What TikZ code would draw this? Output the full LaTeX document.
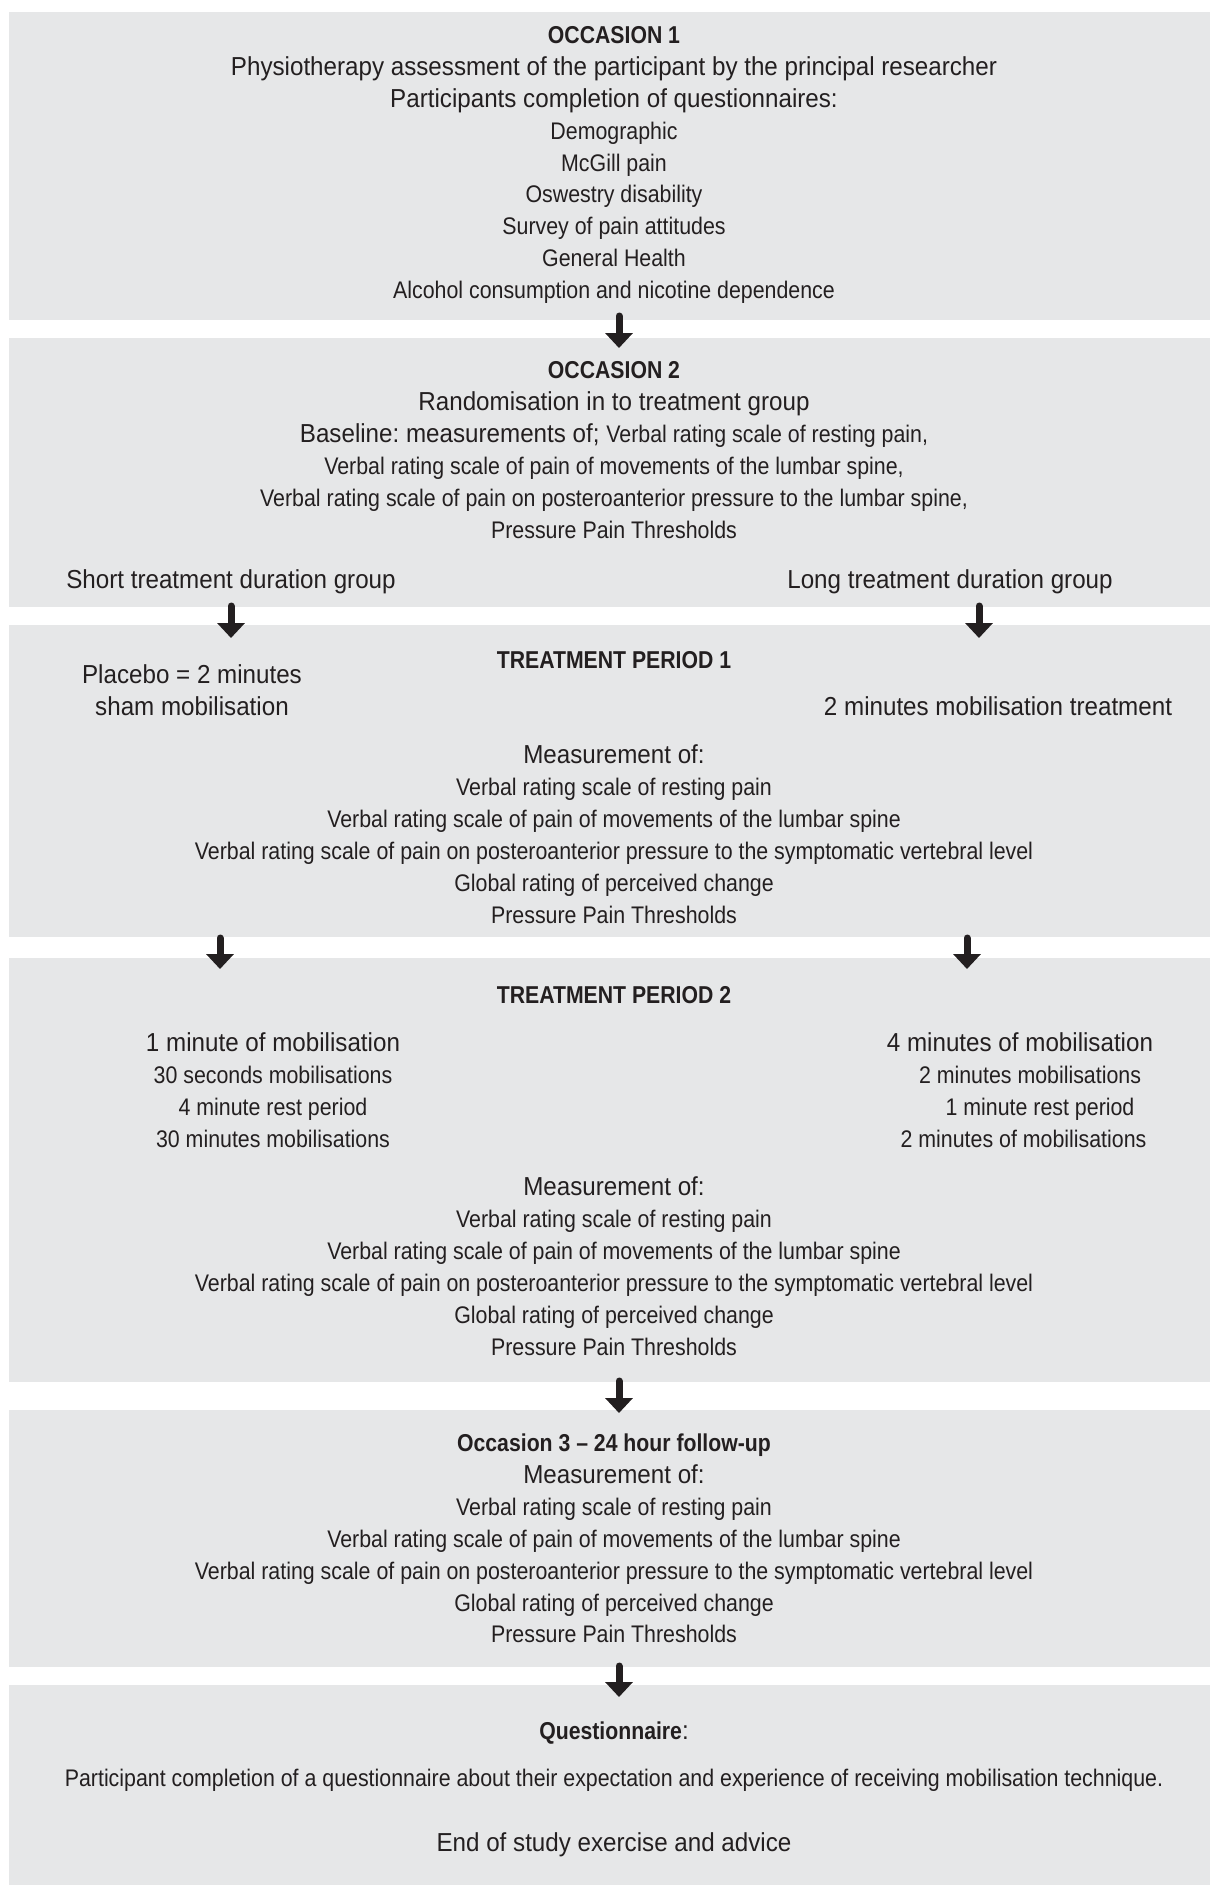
\documentclass[tikz,border=0pt]{standalone}
\usepackage{fontspec}
\setmainfont{Liberation Sans}[FakeStretch=0.93]
\newfontfamily\lightfont{Liberation Sans}[FakeStretch=0.89]
\newfontfamily\headfont{Liberation Sans}[FakeStretch=0.87]
\usetikzlibrary{arrows.meta}
\frenchspacing

\definecolor{boxgray}{HTML}{E6E7E8}
\definecolor{inkgray}{HTML}{231F20}

\newcommand{\mainsz}{\fontsize{13}{15.95}\selectfont}
\newcommand{\lightsz}{\lightfont\fontsize{12}{15.95}\selectfont}
\newcommand{\headsz}{\headfont\bfseries\fontsize{12.2}{15.95}\selectfont}

\tikzset{
  stage/.style={fill=boxgray},
  txt/.style={text=inkgray, align=center, inner sep=0pt, font=\mainsz},
  down/.style={draw=inkgray, line width=3.5pt, line cap=round,
    -{Triangle[width=13.5pt,length=7.5pt]}},
}

\begin{document}
\begin{tikzpicture}[x=0.5pt,y=-0.5pt]
	\useasboundingbox (0,0) rectangle (1210,1885);
	% stage boxes
	\fill[stage] (9,12) rectangle (1210,320);
	\fill[stage] (9,338) rectangle (1210,607);
	\fill[stage] (9,625) rectangle (1210,937);
	\fill[stage] (9,958) rectangle (1210,1382);
	\fill[stage] (9,1410) rectangle (1210,1667);
	\fill[stage] (9,1685) rectangle (1210,1885);

	% occasion 1
	\node[txt] (occ1) at (614,165) {{\headsz OCCASION 1}\\
		Physiotherapy assessment of the participant by the principal researcher\\
		Participants completion of questionnaires:\\
		{\lightsz Demographic}\\
		{\lightsz McGill pain}\\
		{\lightsz Oswestry disability}\\
		{\lightsz Survey of pain attitudes}\\
		{\lightsz General Health}\\
		{\lightsz Alcohol consumption and nicotine dependence}};

	% occasion 2
	\node[txt] (occ2) at (614,450) {{\headsz OCCASION 2}\\
		Randomisation in to treatment group\\
		Baseline: measurements of; {\lightsz Verbal rating scale of resting pain,}\\
		{\lightsz Verbal rating scale of pain of movements of the lumbar spine,}\\
		{\lightsz Verbal rating scale of pain on posteroanterior pressure to the lumbar spine,}\\
		{\lightsz Pressure Pain Thresholds}};
	\node[txt] (short) at (231,581.5) {Short treatment duration group};
	\node[txt] (long) at (950,581.5) {Long treatment duration group};

	% treatment period 1
	\node[txt] (tp1) at (614,660) {\headsz TREATMENT PERIOD 1};
	\node[txt] (placebo) at (192,690) {Placebo = 2 minutes\\ sham mobilisation};
	\node[txt] (mob2) at (998,706.5) {2 minutes mobilisation treatment};
	\node[txt] (meas1) at (614,834) {Measurement of:\\
		{\lightsz Verbal rating scale of resting pain}\\
		{\lightsz Verbal rating scale of pain of movements of the lumbar spine}\\
		{\lightsz Verbal rating scale of pain on posteroanterior pressure to the symptomatic vertebral level}\\
		{\lightsz Global rating of perceived change}\\
		{\lightsz Pressure Pain Thresholds}};

	% treatment period 2
	\node[txt] (tp2) at (614,995.5) {\headsz TREATMENT PERIOD 2};
	\node[txt] (shortmob) at (273,1090) {1 minute of mobilisation\\
		{\lightsz 30 seconds mobilisations}\\
		{\lightsz 4 minute rest period}\\
		{\lightsz 30 minutes mobilisations}};
	\node[txt] (longmob) at (1020,1090) {4 minutes of mobilisation\\
		{\lightsz\hspace*{10pt}2 minutes mobilisations}\\
		{\lightsz\hspace*{20pt}1 minute rest period}\\
		{\lightsz\hspace*{3.5pt}2 minutes of mobilisations}};
	\node[txt] (meas2) at (614,1266) {Measurement of:\\
		{\lightsz Verbal rating scale of resting pain}\\
		{\lightsz Verbal rating scale of pain of movements of the lumbar spine}\\
		{\lightsz Verbal rating scale of pain on posteroanterior pressure to the symptomatic vertebral level}\\
		{\lightsz Global rating of perceived change}\\
		{\lightsz Pressure Pain Thresholds}};

	% occasion 3
	\node[txt] (occ3) at (614,1538.5) {{\headsz Occasion 3 \textendash{} 24 hour follow-up}\\
		Measurement of:\\
		{\lightsz Verbal rating scale of resting pain}\\
		{\lightsz Verbal rating scale of pain of movements of the lumbar spine}\\
		{\lightsz Verbal rating scale of pain on posteroanterior pressure to the symptomatic vertebral level}\\
		{\lightsz Global rating of perceived change}\\
		{\lightsz Pressure Pain Thresholds}};

	% questionnaire
	\node[txt] (quest) at (614,1733.5) {{\headsz Questionnaire}:};
	\node[txt] (partq) at (614,1780.5) {\lightsz Participant completion of a questionnaire about their expectation and experience of receiving mobilisation technique.};
	\node[txt] (endstudy) at (614,1844.5) {End of study exercise and advice};

	% arrows
	\coordinate (a1top) at (619,316);
	\coordinate (a1tip) at (619,348);
	\coordinate (a2top) at (231,606);
	\coordinate (a2tip) at (231,638);
	\coordinate (a3top) at (979,606);
	\coordinate (a3tip) at (979,638);
	\coordinate (a4top) at (220,938);
	\coordinate (a4tip) at (220,969);
	\coordinate (a5top) at (967,938);
	\coordinate (a5tip) at (967,969);
	\coordinate (a6top) at (619,1381);
	\coordinate (a6tip) at (619,1413);
	\coordinate (a7top) at (619,1666);
	\coordinate (a7tip) at (619,1697);
	\draw[down] (a1top) -- (a1tip);
	\draw[down] (a2top) -- (a2tip);
	\draw[down] (a3top) -- (a3tip);
	\draw[down] (a4top) -- (a4tip);
	\draw[down] (a5top) -- (a5tip);
	\draw[down] (a6top) -- (a6tip);
	\draw[down] (a7top) -- (a7tip);
\end{tikzpicture}
\end{document}
